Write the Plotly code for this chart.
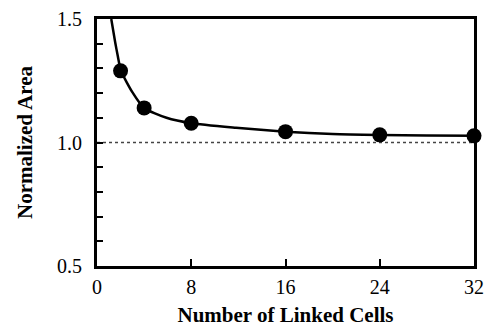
import plotly.graph_objects as go

# data points
cells = [2, 4, 8, 16, 24, 32]
area = [1.29, 1.14, 1.078, 1.044, 1.031, 1.027]

# fitted curve
curve_x = [1.21, 1.55, 1.76, 2.04, 3.0, 4.0, 5.9, 8, 11.8, 16, 20, 24, 28, 32]
curve_y = [1.5, 1.404, 1.351, 1.29, 1.204, 1.14, 1.10, 1.078, 1.060, 1.044, 1.034, 1.030, 1.028, 1.027]

ref_x = [0, 32]
ref_y = [1.0, 1.0]

xticks = [0, 8, 16, 24, 32]
yticks = [0.5, 1.0, 1.5]
ytext = ["0.5", "1.0", "1.5"]

font = "Liberation Serif, Times New Roman, serif"

fig = go.Figure()
fig.add_trace(go.Scatter(x=ref_x, y=ref_y, mode="lines",
                         line=dict(color="#444", width=1.3, dash="3px,3px"),
                         hoverinfo="skip", showlegend=False))
fig.add_trace(go.Scatter(x=curve_x, y=curve_y, mode="lines",
                         line=dict(color="black", width=2.5, shape="spline", smoothing=0.6),
                         showlegend=False))
fig.add_trace(go.Scatter(x=cells, y=area, mode="markers",
                         marker=dict(color="black", size=15),
                         showlegend=False, cliponaxis=False))

fig.update_layout(
    width=492, height=332,
    margin=dict(l=97, r=8, t=16, b=66),
    plot_bgcolor="white", paper_bgcolor="white",
    font=dict(family=font, color="black", size=20),
    xaxis=dict(range=[0, 32], tickvals=xticks, ticks="inside", ticklen=7, tickwidth=1.5,
               tickcolor="black", showline=True, linecolor="black", linewidth=3, mirror=True,
               showgrid=False, zeroline=False, ticklabelstandoff=1,
               title=dict(text="<b>Number of Linked Cells</b>", font=dict(size=21, family=font), standoff=11)),
    yaxis=dict(range=[0.5, 1.5], tickvals=yticks, ticktext=ytext, ticks="inside", ticklen=6,
               tickwidth=1.5, tickcolor="black", showline=True, linecolor="black", linewidth=3,
               mirror=True, showgrid=False, zeroline=False, ticklabelstandoff=8,
               minor=dict(dtick=0.1, ticks="inside", ticklen=6, tickwidth=1.5, tickcolor="black", showgrid=False),
               title=dict(text="<b>Normalized Area</b>", font=dict(size=21, family=font), standoff=19)),
)

fig.write_html("out.html")
